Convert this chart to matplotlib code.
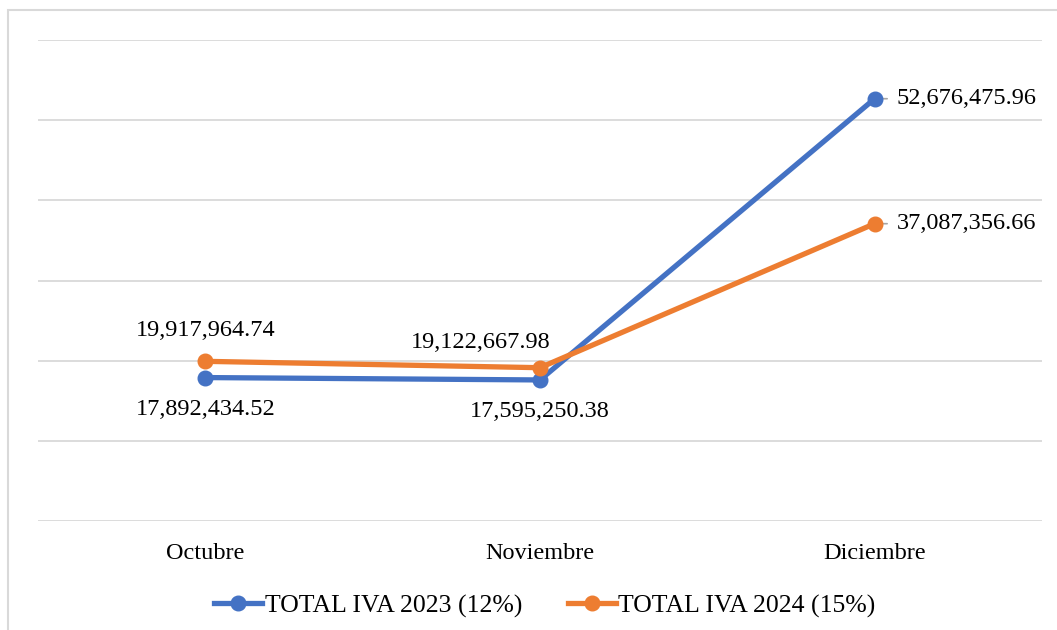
import matplotlib.pyplot as plt
from matplotlib.patches import Rectangle
from matplotlib.ticker import MultipleLocator

months = ['Octubre', 'Noviembre', 'Diciembre']
iva_2023 = [17892434.52, 17595250.38, 52676475.96]
iva_2024 = [19917964.74, 19122667.98, 37087356.66]
names = ['TOTAL IVA 2023 (12%)', 'TOTAL IVA 2024 (15%)']

plt.rcParams['font.family'] = ['Liberation Serif', 'DejaVu Serif']
plt.rcParams['font.size'] = 17.5

blue = '#4472C4'
orange = '#ED7D31'

fig = plt.figure(figsize=(10.57, 6.30), dpi=100)
ax = fig.add_axes([38/1057, 1-521/630, (1042-38)/1057, (521-40)/630])

x = list(range(len(months)))
ax.plot(x, iva_2023, color=blue, lw=3.8, marker='o', ms=10.5, label=names[0], zorder=3)
ax.plot(x, iva_2024, color=orange, lw=3.8, marker='o', ms=10.5, label=names[1], zorder=3)

ax.set_xlim(-0.5, 2.5)
ax.set_ylim(0, 60e6)
ax.yaxis.set_major_locator(MultipleLocator(10e6))
ax.grid(axis='y', color='#d9d9d9', lw=1.3)
ax.set_axisbelow(True)
for s in ax.spines.values():
    s.set_visible(False)
ax.tick_params(left=False, bottom=False, labelleft=False, pad=12)
ax.set_xticks(x)
ax.set_xticklabels(months)

def fmt(v):
    return f'{v:,.2f}'

# data labels (offsets in points)
lab_2023 = [(0, -23), (0, -23), (16, 0)]
lab_2024 = [(0, 22), (-43, 18), (16, 0)]
for i in range(3):
    for vals, off in ((iva_2023, lab_2023[i]), (iva_2024, lab_2024[i])):
        ha = 'left' if i == 2 else 'center'
        ax.annotate(fmt(vals[i]), (x[i], vals[i]), xytext=off, textcoords='offset points',
                    ha=ha, va='center')
        if i == 2:
            ax.annotate('', (x[i], vals[i]), xytext=(9, 0), textcoords='offset points',
                        arrowprops=dict(arrowstyle='-', color='#a6a6a6', lw=1.2,
                                        shrinkA=0, shrinkB=0), zorder=2)

fig.legend(loc='center', bbox_to_anchor=(545/1057, 1-606/630), ncol=2, frameon=False,
           fontsize=18.5, handlelength=1.85, handletextpad=0.1, columnspacing=1.8)

# chart border
fig.patches.append(Rectangle((8/1057, -0.1), 1.1, 1-10/630+0.1, transform=fig.transFigure,
                             fill=False, edgecolor='#d9d9d9', lw=1.5))

fig.savefig('out.png', dpi=100)
